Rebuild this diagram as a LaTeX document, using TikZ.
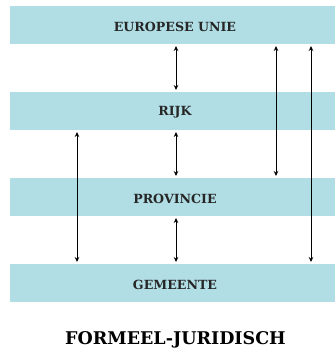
\documentclass[tikz,border=0pt]{standalone}
\usepackage{fontspec}
\setmainfont{DejaVu Serif}
\usetikzlibrary{arrows.meta}
\definecolor{barblue}{RGB}{176,222,228}
\begin{document}
\begin{tikzpicture}[x=1pt,y=-1pt,
  bar/.style={fill=barblue,draw=none,minimum width=325pt,minimum height=38pt,inner sep=0pt,anchor=north west},
  label/.style={font=\bfseries\fontsize{12.6}{14}\selectfont,text=black!85,inner sep=0pt},
  link/.style={line width=1pt,{Stealth[length=5pt,width=4.5pt]}-{Stealth[length=5pt,width=4.5pt]},shorten <=2pt,shorten >=2pt}]
\useasboundingbox (0,0) rectangle (335,353);
\node[bar] (eu) at (10,6) {};
\node[bar] (rijk) at (10,92) {};
\node[bar] (prov) at (10,178) {};
\node[bar] (gem) at (10,264) {};
\node[label] (teu) at (175,26.5) {EUROPESE UNIE};
\node[label] (trijk) at (175,112.5) {RIJK};
\node[label] (tprov) at (175,198.5) {PROVINCIE};
\node[label] (tgem) at (175,284.5) {GEMEENTE};
\node[font=\bfseries\fontsize{17.5}{20}\selectfont,inner sep=0pt] (title) at (175.5,340) {FORMEEL-JURIDISCH};
\coordinate (a1) at (176,44); \coordinate (a2) at (176,92);
\coordinate (b1) at (176,130); \coordinate (b2) at (176,178);
\coordinate (c1) at (176,216); \coordinate (c2) at (176,264);
\coordinate (d1) at (77,130); \coordinate (d2) at (77,264);
\coordinate (e1) at (276,44); \coordinate (e2) at (276,178);
\coordinate (f1) at (311,44); \coordinate (f2) at (311,264);
\draw[link] (a1) -- (a2);
\draw[link] (b1) -- (b2);
\draw[link] (c1) -- (c2);
\draw[link] (d1) -- (d2);
\draw[link] (e1) -- (e2);
\draw[link] (f1) -- (f2);
\end{tikzpicture}
\end{document}
